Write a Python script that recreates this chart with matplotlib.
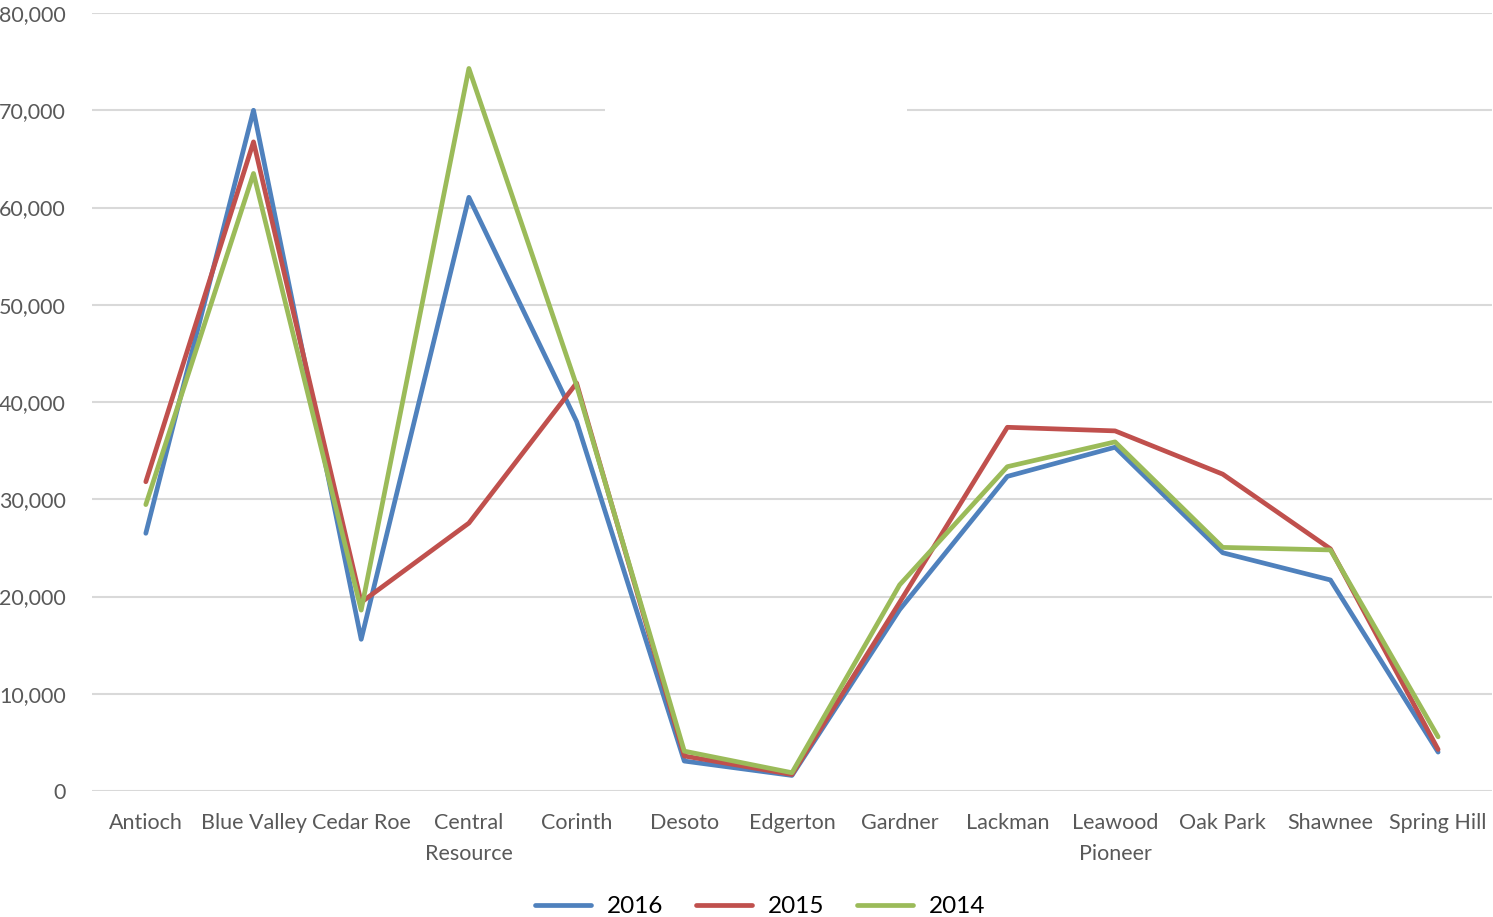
import matplotlib
matplotlib.use('Agg')
import matplotlib.pyplot as plt
from matplotlib.ticker import FuncFormatter

plt.rcParams['font.family'] = ['Lato', 'DejaVu Sans']

# school names along the x axis
schools = ['Antioch', 'Blue Valley', 'Cedar Roe', 'Central\nResource', 'Corinth',
           'Desoto', 'Edgerton', 'Gardner', 'Lackman', 'Leawood\nPioneer',
           'Oak Park', 'Shawnee', 'Spring Hill']

# values
y2016 = [26500, 70000, 15600, 61050, 38000, 3080, 1600, 18650, 32350, 35350, 24500, 21700, 4000]
y2015 = [31800, 66750, 19400, 27550, 41950, 3600, 1700, 19400, 37400, 37030, 32580, 24900, 4270]
y2014 = [29450, 63500, 18600, 74300, 41700, 4100, 1880, 21200, 33350, 35900, 25050, 24790, 5570]

years = ['2016', '2015', '2014']
colors = ['#4f81bd', '#c0504d', '#9bbb59']

fig = plt.figure(figsize=(14.93, 9.17), dpi=100)
ax = fig.add_axes([0.0616, 0.1374, 0.9377, 0.8484])

x = range(len(schools))
for vals, lab, col in zip([y2016, y2015, y2014], years, colors):
    ax.plot(x, vals, color=col, lw=3.4, label=lab, solid_capstyle='round',
            solid_joinstyle='round', zorder=3)

ax.set_xlim(-0.5, len(schools) - 0.5)
ax.set_ylim(0, 80000)
ax.set_yticks(range(0, 80001, 10000))
ax.yaxis.set_major_formatter(FuncFormatter(lambda v, p: f'{int(v):,}'))

# gridlines drawn by hand; the 70,000 one has a gap in the original
grid_kw = dict(color='#d9d9d9', lw=1.5, zorder=1)
for v in range(0, 80001, 10000):
    if v == 70000:
        ax.hlines(v, -0.5, 4.26, **grid_kw)
        ax.hlines(v, 7.07, len(schools) - 0.5, **grid_kw)
    else:
        ax.hlines(v, -0.5, len(schools) - 0.5, **grid_kw)

ax.set_xticks(list(x))
ax.set_xticklabels(schools, linespacing=1.7)
ax.tick_params(axis='x', length=0, pad=16, labelsize=15.5, colors='#595959')
ax.tick_params(axis='y', length=0, pad=19, labelsize=15.5, colors='#595959')
for s in ax.spines.values():
    s.set_visible(False)

fig.legend(loc='lower center', bbox_to_anchor=(0.509, -0.024), ncol=3, frameon=False,
           fontsize=17.5, handlelength=2.3, columnspacing=1.35, handletextpad=0.65)

fig.savefig('out.png', dpi=100)
